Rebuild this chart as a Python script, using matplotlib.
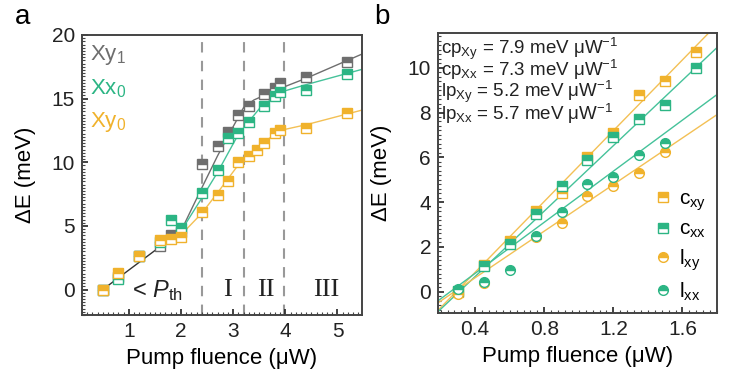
import matplotlib
matplotlib.use("Agg")
import matplotlib.pyplot as plt
from matplotlib.ticker import MultipleLocator
from matplotlib.lines import Line2D

plt.rcParams['font.family'] = ['Liberation Sans', 'DejaVu Sans']
plt.rcParams['mathtext.fontset'] = 'custom'
plt.rcParams['mathtext.rm'] = 'Liberation Sans'
plt.rcParams['mathtext.it'] = 'Liberation Sans:italic'
plt.rcParams['mathtext.bf'] = 'Liberation Sans:bold'

GRAY = '#6e6e6e'
GREEN = '#2cb584'
ORANGE = '#f0b22c'
GREEN_L = '#45c29a'
ORANGE_L = '#f3c055'

# ---------------- panel a data ----------------
a_x = [0.5, 0.8, 1.2, 1.6, 1.8, 2.0, 2.4, 2.7, 2.9, 3.1, 3.3, 3.45, 3.6, 3.8, 3.9, 4.4, 5.18]
xy1_x = [0.5, 0.8, 1.2, 1.6, 1.8, 2.0, 2.4, 2.7, 2.9, 3.1, 3.3, 3.6, 3.8, 3.9, 4.4, 5.18]
xy1_y = [0.0, 1.0, 2.6, 3.4, 4.3, 4.5, 9.9, 11.25, 12.4, 13.75, 14.4, 15.4, 15.8, 16.25, 16.7, 17.9]
xx0_x = [0.5, 0.8, 1.2, 1.6, 1.8, 2.0, 2.4, 2.7, 2.9, 3.1, 3.3, 3.6, 3.8, 3.9, 4.4, 5.18]
xx0_y = [0.0, 0.85, 2.6, 3.75, 5.5, 4.8, 7.6, 9.4, 11.9, 12.3, 13.2, 14.4, 15.2, 15.5, 15.7, 16.95]
xy0_x = a_x
xy0_y = [0.0, 1.3, 2.6, 3.9, 4.0, 4.1, 6.1, 7.4, 8.5, 10.0, 10.5, 11.0, 11.5, 12.3, 12.55, 12.7, 13.9]

# fit curves (knots)
fit_low_x = [0.5, 2.0]
fit_low_y = [0.0, 4.6]
fit_xy1_x = [2.0, 2.4, 2.7, 3.0, 3.2, 3.4, 3.9, 4.4, 5.47]
fit_xy1_y = [4.6, 8.0, 10.5, 12.8, 14.3, 14.9, 15.8, 16.6, 18.5]
fit_xx0_x = [2.0, 2.4, 2.7, 3.1, 3.5, 3.9, 4.4, 5.47]
fit_xx0_y = [4.6, 7.2, 9.2, 12.2, 14.2, 15.5, 16.1, 17.3]
fit_xy0_x = [2.0, 2.4, 2.7, 3.1, 3.5, 3.9, 4.4, 5.47]
fit_xy0_y = [4.3, 6.0, 7.6, 9.8, 11.3, 12.5, 12.95, 14.1]

regions_x = [2.4, 3.2, 3.97]
region_labels = ['I', 'II', 'III']
region_label_x = [2.9, 3.62, 4.78]

# ---------------- panel b data ----------------
cxy_x = [0.3, 0.45, 0.6, 0.75, 0.9, 1.05, 1.2, 1.35, 1.5, 1.68]
cxy_y = [0.0, 1.2, 2.25, 3.6, 4.4, 6.0, 7.1, 8.8, 9.4, 10.7]
cxx_x = [0.3, 0.45, 0.6, 0.75, 0.9, 1.05, 1.2, 1.35, 1.5, 1.68]
cxx_y = [0.05, 1.15, 2.15, 3.45, 4.7, 5.9, 6.9, 7.7, 8.35, 10.0]
lxy_x = [0.3, 0.45, 0.75, 0.9, 1.05, 1.2, 1.35, 1.5]
lxy_y = [-0.1, 0.4, 2.45, 3.05, 4.28, 4.7, 5.3, 6.25]
lxx_x = [0.3, 0.45, 0.6, 0.75, 0.9, 1.05, 1.2, 1.35, 1.5]
lxx_y = [0.1, 0.45, 0.98, 2.5, 3.56, 4.82, 5.1, 6.1, 6.65]

slopes = [7.9, 7.3, 5.2, 5.7]
zero_x = [0.29, 0.307, 0.28, 0.256]
slope_names = ['cp$_{\\mathrm{Xy}}$', 'cp$_{\\mathrm{Xx}}$', 'lp$_{\\mathrm{Xy}}$', 'lp$_{\\mathrm{Xx}}$']
legend_labels = ['c$_{\\mathrm{xy}}$', 'c$_{\\mathrm{xx}}$', 'l$_{\\mathrm{xy}}$', 'l$_{\\mathrm{xx}}$']

fig = plt.figure(figsize=(7.38, 3.75), dpi=100)
ax1 = fig.add_axes([0.111, 0.16, 0.3795, 0.7467])
ax2 = fig.add_axes([0.5935, 0.1653, 0.378, 0.7467])

TICK_FS = 15
LAB_FS = 16

def style(ax):
    for s in ax.spines.values():
        s.set_color('#444444')
        s.set_linewidth(1.4)
    ax.tick_params(axis='both', which='major', direction='in', length=4, width=1.2,
                   labelsize=TICK_FS, colors='#222222', pad=5)
    ax.tick_params(axis='both', which='minor', direction='in', length=2, width=0.8, colors='#444444')
    ax.tick_params(top=False, right=False, which='both')

def hmark(ax, x, y, color, marker, ms):
    ax.plot(x, y, linestyle='none', marker=marker, ms=ms, mfc=color, mfcalt='white',
            fillstyle='top', mec=color, mew=1.0, zorder=3)

# ---- panel a ----
ax1.plot(fit_xy1_x, fit_xy1_y, color=GRAY, lw=1.0, zorder=2)
ax1.plot(fit_xx0_x, fit_xx0_y, color=GREEN_L, lw=1.0, zorder=2)
ax1.plot(fit_xy0_x, fit_xy0_y, color=ORANGE_L, lw=1.0, zorder=2)
ax1.plot(fit_low_x, fit_low_y, color='#333333', lw=1.0, zorder=2)
hmark(ax1, xy1_x, xy1_y, GRAY, 's', 6.5)
hmark(ax1, xx0_x, xx0_y, GREEN, 's', 6.5)
hmark(ax1, xy0_x, xy0_y, ORANGE, 's', 6.5)
for rx in regions_x:
    ax1.axvline(rx, color='#999999', lw=1.5, ls=(0, (5, 4)), zorder=1)
for lx, lab in zip(region_label_x, region_labels):
    ax1.text(lx, 0.0, lab, family='Liberation Serif', fontsize=19, ha='center', va='center',
             color='#222222')
ax1.text(1.55, -0.1, '< $P_{\\mathrm{th}}$', fontsize=17, ha='center', va='center', color='#222222')
ax1.text(0.25, 18.4, 'Xy$_1$', fontsize=16, color=GRAY, ha='left', va='center')
ax1.text(0.25, 15.8, 'Xx$_0$', fontsize=16, color=GREEN, ha='left', va='center')
ax1.text(0.25, 13.2, 'Xy$_0$', fontsize=16, color=ORANGE, ha='left', va='center')
ax1.set_xlim(0.1, 5.47)
ax1.set_ylim(-2, 20)
ax1.xaxis.set_major_locator(MultipleLocator(1))
ax1.xaxis.set_minor_locator(MultipleLocator(0.1))
ax1.yaxis.set_major_locator(MultipleLocator(5))
ax1.yaxis.set_minor_locator(MultipleLocator(0.25))
style(ax1)
ax1.set_xlabel('Pump fluence (μW)', fontsize=LAB_FS, labelpad=5)
ax1.set_ylabel('ΔE (meV)', fontsize=LAB_FS)
ax1.yaxis.set_label_coords(-0.165, 0.5)
fig.text(0.03, 0.955, 'a', fontsize=20, ha='center', va='center')

# ---- panel b ----
xs_line = [0.185, 1.8]
line_cols = [ORANGE_L, GREEN_L, ORANGE_L, GREEN_L]
for m, x0, c in zip(slopes, zero_x, line_cols):
    ax2.plot(xs_line, [m * (xs_line[0] - x0), m * (xs_line[1] - x0)], color=c, lw=1.0, zorder=2)
hmark(ax2, cxy_x, cxy_y, ORANGE, 's', 6.5)
hmark(ax2, cxx_x, cxx_y, GREEN, 's', 6.5)
hmark(ax2, lxy_x, lxy_y, ORANGE, 'o', 7)
hmark(ax2, lxx_x, lxx_y, GREEN, 'o', 7)
block = '\n'.join(nm + ' = %.1f meV μW$^{-1}$' % m for nm, m in zip(slope_names, slopes))
ax2.text(0.205, 11.45, block, fontsize=13.5, ha='left', va='top', color='#222222',
         linespacing=0.82)
handles = [
    Line2D([], [], ls='none', marker='s', ms=6.5, mfc=ORANGE, mfcalt='white', fillstyle='top', mec=ORANGE),
    Line2D([], [], ls='none', marker='s', ms=6.5, mfc=GREEN, mfcalt='white', fillstyle='top', mec=GREEN),
    Line2D([], [], ls='none', marker='o', ms=7, mfc=ORANGE, mfcalt='white', fillstyle='top', mec=ORANGE),
    Line2D([], [], ls='none', marker='o', ms=7, mfc=GREEN, mfcalt='white', fillstyle='top', mec=GREEN),
]
ax2.legend(handles, legend_labels, loc='lower right', frameon=False, fontsize=15,
           handletextpad=0.3, labelspacing=0.35, handlelength=1.0,
           bbox_to_anchor=(1.03, -0.03))
ax2.set_xlim(0.185, 1.8)
ax2.set_ylim(-0.95, 11.55)
ax2.xaxis.set_major_locator(MultipleLocator(0.4))
ax2.xaxis.set_minor_locator(MultipleLocator(0.04))
ax2.yaxis.set_major_locator(MultipleLocator(2))
ax2.yaxis.set_minor_locator(MultipleLocator(0.2))
style(ax2)
ax2.set_xlabel('Pump fluence (μW)', fontsize=LAB_FS, labelpad=5)
ax2.set_ylabel('ΔE (meV)', fontsize=LAB_FS)
ax2.yaxis.set_label_coords(-0.165, 0.5)
fig.text(0.518, 0.955, 'b', fontsize=20, ha='center', va='center')

fig.savefig('out.png', dpi=100)
